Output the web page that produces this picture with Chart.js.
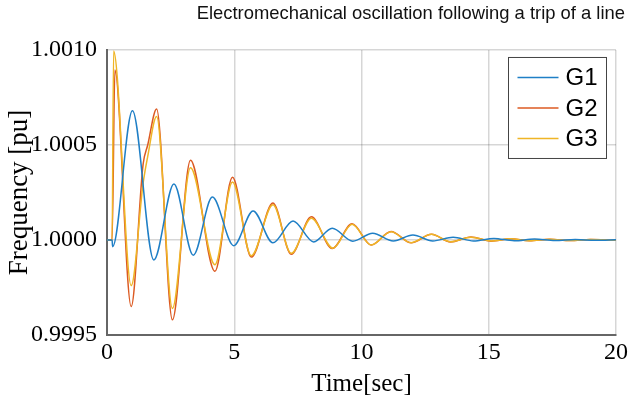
<!DOCTYPE html>
<html>
<head>
<meta charset="utf-8">
<script src="https://cdn.jsdelivr.net/npm/chart.js@4/dist/chart.umd.min.js"></script>
<style>
  html, body { margin: 0; padding: 0; background: #ffffff; }
  #wrap { width: 631px; height: 405px; }
</style>
</head>
<body>
<div id="wrap"><canvas id="c" width="631" height="405"></canvas></div>
<script>
// ---- data ----
const seriesNames = ['G1', 'G2', 'G3'];
const seriesColors = ['#1f7fc6', '#dc5a22', '#efb526'];

const g1Time = [0, 0.2, 0.22, 1.0, 1.84, 2.63, 3.39, 4.14, 4.98, 5.74, 6.52, 7.31, 8.12, 8.85, 9.66, 10.44, 11.25, 12.02, 12.8, 13.6, 14.4, 15.2, 16.0, 16.8, 17.6, 18.4, 19.2, 20];
const g1Freq = [1.0, 1.0, 0.999965, 1.00068, 0.999895, 1.000295, 0.99992, 1.000226, 0.99997, 1.000153, 0.999985, 1.0001, 0.99999, 1.000062, 0.999994, 1.000036, 0.999995, 1.000026, 0.999995, 1.000014, 0.999995, 1.000008, 0.999996, 1.000005, 0.999997, 1.000003, 0.999998, 1.000001];

const g2Time = [0, 0.2, 0.31, 0.95, 1.42, 1.6, 1.95, 2.57, 3.28, 4.24, 4.93, 5.67, 6.52, 7.24, 8.03, 8.85, 9.63, 10.38, 11.16, 11.95, 12.75, 13.5, 14.3, 15.1, 15.85, 16.6, 17.4, 18.2, 19.0, 19.8, 20];
const g2Freq = [1.0, 1.0, 1.000895, 0.99965, 1.0004, 1.0005, 1.00069, 0.99958, 1.00042, 0.999835, 1.00033, 0.99991, 1.000195, 0.999925, 1.000122, 0.999955, 1.000085, 0.999973, 1.000045, 0.999985, 1.00003, 0.99999, 1.000016, 0.999994, 1.000006, 0.999996, 1.000004, 0.999997, 1.000003, 0.999999, 1.0];

const g3Time = [0, 0.2, 0.26, 0.95, 1.42, 1.6, 1.95, 2.57, 3.28, 4.24, 4.93, 5.67, 6.52, 7.24, 8.03, 8.88, 9.63, 10.38, 11.16, 11.95, 12.75, 13.5, 14.3, 15.1, 15.85, 16.6, 17.4, 18.2, 19.0, 19.8, 20];
const g3Freq = [1.0, 1.0, 1.000995, 0.99976, 1.0003, 1.00044, 1.00065, 0.99964, 1.00038, 0.99987, 1.000305, 0.999917, 1.000185, 0.99993, 1.000115, 0.999957, 1.000083, 0.999974, 1.000043, 0.999986, 1.00003, 0.999991, 1.000015, 0.999995, 1.000006, 0.999996, 1.000004, 0.999997, 1.000003, 0.999999, 1.0];

const xTickValues = [0, 5, 10, 15, 20];
const yTickValues = [0.9995, 1.0000, 1.0005, 1.0010];
const yTickLabels = ['0.9995', '1.0000', '1.0005', '1.0010'];

const titleText = 'Electromechanical oscillation following a trip of a line';
const xTitle = 'Time[sec]';
const yTitle = 'Frequency [pu]';

// ---- build ----
function pts(ts, vs) { return ts.map((t, i) => ({ x: t, y: vs[i] })); }
const allTimes = [g1Time, g2Time, g3Time];
const allFreqs = [g1Freq, g2Freq, g3Freq];
const drawOrder = [0, 2, 1];

const datasets = seriesNames.map((name, i) => ({
  label: name,
  data: pts(allTimes[i], allFreqs[i]),
  borderColor: seriesColors[i],
  backgroundColor: seriesColors[i],
  borderWidth: 1.5,
  pointRadius: 0,
  fill: false,
  cubicInterpolationMode: 'monotone',
  order: drawOrder[i]
}));

const boxLegend = {
  id: 'boxLegend',
  afterDatasetsDraw(chart) {
    const ctx = chart.ctx;
    const a = chart.chartArea;
    const right = a.right - 9.5, top = a.top + 7.5;
    const w = 98, h = 101;
    const left = right - w;
    ctx.save();
    ctx.fillStyle = '#ffffff';
    ctx.fillRect(left, top, w, h);
    ctx.strokeStyle = '#444444';
    ctx.lineWidth = 1;
    ctx.strokeRect(left, top, w, h);
    ctx.font = '24px "Liberation Sans", Arial, sans-serif';
    ctx.textBaseline = 'middle';
    ctx.textAlign = 'left';
    chart.data.datasets.forEach((ds, i) => {
      const y = top + 20 + i * 30.5;
      ctx.strokeStyle = ds.borderColor;
      ctx.lineWidth = 1.5;
      ctx.beginPath();
      ctx.moveTo(left + 9, y);
      ctx.lineTo(left + 50, y);
      ctx.stroke();
      ctx.fillStyle = '#000000';
      ctx.fillText(ds.label, left + 57, y + 1);
    });
    ctx.restore();
  }
};

const serif = '"Liberation Serif", "Times New Roman", serif';

new Chart(document.getElementById('c'), {
  type: 'line',
  data: { datasets },
  options: {
    responsive: false,
    animation: false,
    layout: { padding: { left: 0, right: 6, top: 0, bottom: 0 } },
    plugins: {
      legend: { display: false },
      tooltip: { enabled: false },
      title: {
        display: true,
        text: titleText,
        align: 'end',
        color: '#111111',
        font: { family: '"Liberation Sans", Arial, sans-serif', size: 18.4, weight: 'normal', lineHeight: 1.2 },
        padding: { top: 3, bottom: 24.9 }
      }
    },
    scales: {
      x: {
        type: 'linear',
        min: 0, max: 20,
        afterBuildTicks(scale) { scale.ticks = xTickValues.map(v => ({ value: v })); },
        afterFit(scale) { scale.height = 70; },
        ticks: {
          color: '#000000',
          font: { family: serif, size: 24 },
          padding: 3,
          maxRotation: 0,
          callback: v => String(v)
        },
        grid: { color: 'rgba(0,0,0,0.16)', lineWidth: 1.5, drawTicks: false },
        border: { display: true, color: '#666666', width: 2 },
        title: {
          display: true,
          text: xTitle,
          color: '#000000',
          font: { family: serif, size: 25, lineHeight: 1.2 },
          padding: { top: 0, bottom: 6 }
        }
      },
      y: {
        type: 'linear',
        min: 0.9995, max: 1.0010,
        afterBuildTicks(scale) { scale.ticks = yTickValues.map(v => ({ value: v })); },
        afterFit(scale) { scale.width = 107; },
        ticks: {
          color: '#000000',
          font: { family: serif, size: 24 },
          padding: 10,
          callback: (v, i) => yTickLabels[i]
        },
        grid: { color: 'rgba(0,0,0,0.16)', lineWidth: 1.5, drawTicks: false },
        border: { display: true, color: '#666666', width: 2 },
        title: {
          display: true,
          text: yTitle,
          color: '#000000',
          font: { family: serif, size: 27, lineHeight: 1.2 },
          padding: { top: 4, bottom: 0 }
        }
      }
    }
  },
  plugins: [boxLegend]
});
</script>
</body>
</html>
